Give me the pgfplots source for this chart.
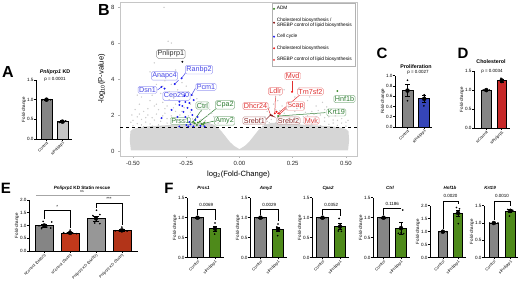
\documentclass[border=0pt]{standalone}
\usepackage{fontspec}
\setmainfont{Liberation Sans}
\usepackage{pgfplots}
\pgfplotsset{compat=1.18}
\newcommand{\fs}[1]{\fontsize{#1}{#1}\selectfont}
\definecolor{cgray}{HTML}{858585}
\definecolor{cgrayL}{HTML}{C4C4C4}
\definecolor{cblue}{HTML}{3545B8}
\definecolor{cred}{HTML}{C62828}
\definecolor{corange}{HTML}{C1391B}
\definecolor{cgreen}{HTML}{4E8A1A}
\definecolor{ptgray}{HTML}{CCCCCC}
\definecolor{cloud}{HTML}{D6D6D6}
\definecolor{vblue}{HTML}{1E1EF0}
\definecolor{vgreen}{HTML}{3D8B2A}
\definecolor{vred}{HTML}{F01818}
\definecolor{vdred}{HTML}{8B1A1A}
\definecolor{vsalmon}{HTML}{F04848}
\definecolor{lblue}{HTML}{4848E8}
\definecolor{lgreen}{HTML}{2E7D32}
\definecolor{lred}{HTML}{E03030}
\definecolor{ldred}{HTML}{8B2A2A}
\definecolor{lblack}{HTML}{333333}
\tikzset{
  brk/.style={black, line width=0.45pt},
  lab/.style={draw=#1!55!white, text=#1, fill=white, rounded corners=1.5pt, inner sep=1pt, font=\fs{7.2}, line width=0.45pt},
}
\pgfplotsset{
  bp/.style={
    scale only axis, anchor=south west, clip=false,
    axis lines=left, axis line style={-, line width=0.6pt},
    ymin=0, xtick={1,2},
    tick align=outside, major tick length=1.6pt,
    every tick/.style={black, line width=0.5pt},
    tick label style={font=\fs{4.6}},
    xticklabel style={rotate=45, anchor=north east, inner sep=0.4pt, font=\fs{3.9}},
    yticklabel style={inner sep=0.8pt, /pgf/number format/.cd, fixed, fixed zerofill, precision=1, assume math mode=true},
    ylabel={Fold-change}, ylabel style={font=\fs{4.5}, inner sep=0pt},
  },
  br/.style={ybar, bar width=#1, bar shift=0pt, draw=black, line width=0.7pt},
  eb/.style={only marks, mark=none, forget plot, error bars/.cd, y dir=both, y explicit,
    error bar style={black, line width=0.5pt},
    error mark options={black, rotate=90, mark size=#1, line width=0.5pt}},
  dt/.style={only marks, mark=*, mark size=0.6pt, black},
}
\begin{document}
\begin{tikzpicture}[x=1pt,y=1pt]
\path[use as bounding box] (0,0) rectangle (520,284);

% ---------------- Panel letters
\node[font=\fs{16}\bfseries] at (8,212) {A};
\node[font=\fs{16}\bfseries] at (104,274) {B};
\node[font=\fs{15}\bfseries] at (382,231) {C};
\node[font=\fs{15}\bfseries] at (463,231) {D};
\node[font=\fs{15}\bfseries] at (6,96) {E};
\node[font=\fs{15}\bfseries] at (169,95.5) {F};

% ---------------- Panel A
\begin{axis}[bp, at={(36pt,145pt)}, width=36pt, height=59pt,
  xmin=0.344, xmax=2.594, ymax=1.5, ytick={0,0.5,1,1.5},
  xticklabels={Control, siPnliprp1}]
\addplot[br=11pt, fill=cgray] coordinates {(1,1)};
\addplot[br=11pt, fill=cgrayL] coordinates {(2,0.44)};
\addplot[eb=2pt] coordinates {(1,1) +- (0,0.004) (2,0.44) +- (0,0.025)};
\addplot[dt] coordinates {(0.75,1)(0.92,1)(1.08,1)(1.25,1)(1.8,0.42)(1.93,0.47)(2.07,0.43)(2.2,0.46)};
\end{axis}
\node[font=\fs{5.3}\bfseries] at (55,212) {\textit{Pnliprp1} KD};
\node[font=\fs{4.5}] at (55,204.5) {p = 0.0001};

% ---------------- Panel B (volcano)
\begin{axis}[scale only axis, anchor=south west, at={(120pt,128pt)}, width=237pt, height=154pt,
  xmin=-0.561, xmax=0.552, ymin=-0.28, ymax=8.28,
  axis line style={draw=gray!45, line width=0.5pt},
  xtick={-0.5,-0.25,0,0.25,0.5}, xticklabels={-0.50,-0.25,0.00,0.25,0.50},
  ytick={0,2,4,6,8},
  tick align=outside, major tick length=2pt, every tick/.style={gray!60, line width=0.4pt},
  xtick pos=bottom, ytick pos=left,
  tick label style={font=\fs{6.0}, text=black!85},
  yticklabel style={/pgf/number format/assume math mode=true},
  xlabel={log\textsubscript{2}(Fold-Change)}, ylabel={-log\textsubscript{10}(P-value)},
  label style={font=\fs{7.6}},
  xlabel style={yshift=2pt}, ylabel style={yshift=-1pt},
  legend style={at={(0.994,0.996)}, anchor=north east, font=\fs{4.8}, draw=gray!60, line width=0.4pt,
    inner sep=1.6pt, row sep=2.6pt, cells={anchor=west, align=left}, fill=white},
  legend cell align=left,
  legend image code/.code={\draw[mark repeat=2,mark phase=2] plot coordinates {(0cm,0cm)(0.1cm,0cm)(0.2cm,0cm)};},
]
% dense cloud
\addplot[fill=cloud, draw=none, forget plot] coordinates {
 (-0.51,0.03)(-0.515,0.6)(-0.512,1.1)(-0.50,1.22)(-0.47,1.32)(-0.42,1.38)(-0.36,1.42)(-0.30,1.46)(-0.24,1.52)
 (-0.19,1.58)(-0.15,1.56)(-0.12,1.46)(-0.10,1.28)(-0.085,1.1)(-0.065,0.8)(-0.045,0.5)(-0.025,0.28)(0,0.1)
 (0.025,0.28)(0.045,0.5)(0.065,0.8)(0.085,1.1)(0.10,1.28)(0.12,1.46)(0.15,1.56)(0.19,1.58)(0.24,1.52)
 (0.30,1.46)(0.36,1.42)(0.42,1.38)(0.47,1.32)(0.50,1.22)(0.512,1.1)(0.515,0.6)(0.51,0.03)} -- cycle;
% scattered gray genes
\addplot[only marks, mark=*, mark size=0.45pt, color=ptgray, forget plot] coordinates {
(-0.354,7.98)(-0.335,6.10)(-0.320,6.00)(-0.400,4.90)(-0.420,4.40)(-0.380,4.20)(-0.300,4.50)(-0.350,3.90)
(-0.390,3.70)(-0.440,3.40)(-0.460,3.00)(-0.410,3.10)(-0.370,3.20)(-0.330,3.30)(-0.310,3.00)(-0.290,3.40)
(-0.240,3.30)(-0.220,3.10)(-0.200,2.90)(-0.180,2.70)(-0.160,2.50)(-0.140,2.30)(-0.130,2.10)(-0.120,1.90)
(-0.420,2.80)(-0.470,2.60)(-0.490,2.30)(-0.450,2.20)(-0.400,2.50)(-0.360,2.70)(-0.340,2.50)(-0.380,2.30)
(-0.430,2.00)(-0.480,1.90)(-0.500,1.70)(-0.460,1.75)(-0.410,1.85)(-0.390,2.05)(-0.350,2.10)(-0.300,2.20)
(-0.320,1.95)(-0.280,2.00)(-0.260,2.40)(-0.300,2.60)(-0.330,2.85)(-0.250,3.60)(-0.270,3.80)(-0.230,2.15)
(-0.150,1.95)(-0.110,1.70)(-0.100,1.55)(-0.440,1.60)(-0.370,1.65)(-0.340,1.80)(-0.290,1.70)(-0.255,1.75)
(-0.180,2.20)(-0.200,2.40)(-0.230,2.60)(-0.360,3.60)(-0.320,3.70)(-0.480,3.10)(-0.510,1.60)(-0.505,2.00)
(-0.50,1.40)(-0.48,1.52)(-0.46,1.45)(-0.44,1.85)(-0.42,1.50)(-0.40,1.72)(-0.38,1.45)(-0.36,1.95)
(-0.34,1.55)(-0.32,1.45)(-0.30,1.82)(-0.28,1.48)(-0.26,1.62)(-0.24,1.95)(-0.22,1.78)(-0.20,1.85)
(-0.18,1.75)(-0.16,1.68)(-0.14,1.55)(-0.13,1.45)(-0.12,1.38)(-0.47,2.05)(-0.43,2.35)(-0.39,2.60)
(-0.35,2.35)(-0.31,2.40)(-0.27,2.20)(-0.45,1.35)(-0.41,1.38)(-0.37,1.35)
(0.100,1.55)(0.110,1.75)(0.120,1.90)(0.130,2.20)(0.140,2.40)(0.160,2.60)(0.180,2.80)(0.200,2.50)
(0.220,2.30)(0.240,2.70)(0.260,3.00)(0.280,2.60)(0.300,2.40)(0.320,2.80)(0.340,2.20)(0.360,2.50)
(0.380,2.00)(0.400,2.30)(0.420,1.90)(0.440,2.10)(0.460,1.70)(0.480,1.80)(0.500,1.60)(0.350,1.75)
(0.300,1.90)(0.250,2.00)(0.230,1.80)(0.270,1.70)(0.320,1.65)(0.400,1.65)(0.190,3.10)(0.210,3.40)
(0.170,3.00)(0.280,3.50)(0.300,3.20)(0.150,2.00)(0.260,2.20)(0.390,2.70)(0.330,3.00)(0.210,2.10)
(0.360,1.90)(0.440,1.55)(0.510,1.70)(0.130,1.65)(0.170,2.30)
(0.11,1.38)(0.12,1.48)(0.14,1.58)(0.15,1.75)(0.17,1.55)(0.18,1.68)(0.20,1.78)(0.22,1.52)
(0.24,1.62)(0.26,1.85)(0.28,1.45)(0.30,1.58)(0.32,1.95)(0.34,1.50)(0.36,1.62)(0.38,1.40)
(0.40,1.85)(0.42,1.48)(0.44,1.72)(0.46,1.42)(0.48,1.55)(0.50,1.38)(0.19,2.25)(0.23,2.45)
(0.27,2.35)(0.31,2.15)(0.35,2.05)(0.41,2.45)(0.45,1.95)(0.37,2.25)};
% Pnliprp1 (black)
\addplot[only marks, mark=*, mark size=0.75pt, color=black, forget plot] coordinates {(-0.268,4.96)};
% legend series
\addplot[only marks, mark=*, mark size=0.75pt, color=vgreen] coordinates {
(-0.217,1.63)(-0.186,1.63)(-0.210,1.54)(-0.178,1.50)(-0.200,1.44)(-0.170,1.46)(-0.195,1.58)(-0.165,1.58)
(0.460,3.33)(0.182,1.94)};
\addlegendentry{ADM}
\addplot[only marks, mark=*, mark size=0.75pt, color=vdred] coordinates {(0.146,2.00)(0.153,1.96)};
\addlegendentry{Cholesterol biosynthesis /\\SREBP control of lipid biosynthesis}
\addplot[only marks, mark=*, mark size=0.75pt, color=vblue] coordinates {
(-0.272,4.04)(-0.304,3.72)(-0.366,3.56)(-0.352,3.47)(-0.282,2.74)(-0.254,2.72)(-0.282,2.56)(-0.244,2.39)
(-0.263,2.17)(-0.225,2.28)(-0.291,1.89)(-0.366,1.83)(-0.254,1.89)(-0.221,2.00)(-0.235,1.61)(-0.207,1.72)
(-0.197,1.89)(-0.225,3.11)(-0.249,1.44)(-0.282,1.36)(-0.183,1.40)(-0.164,1.36)(-0.216,1.36)(-0.235,2.67)
(-0.258,3.06)(-0.215,2.83)(-0.268,2.50)(-0.319,2.28)(-0.240,1.36)(-0.230,1.48)};
\addlegendentry{Cell cycle}
\addplot[only marks, mark=*, mark size=0.75pt, color=vred] coordinates {(0.247,3.29)(0.166,2.09)(0.182,2.09)(0.174,2.18)};
\addlegendentry{Cholesterol biosynthesis}
\addplot[only marks, mark=*, mark size=0.75pt, color=vsalmon] coordinates {(0.189,2.06)};
\addlegendentry{SREBP control of lipid biosynthesis}
% significance line
\addplot[black, dashed, line width=0.65pt, forget plot] coordinates {(-0.561,1.301)(0.552,1.301)};
% leader lines
\draw[lblue, line width=0.5pt] (axis cs:-0.249,4.41) -- (axis cs:-0.272,4.04);
\draw[lblue, line width=0.5pt] (axis cs:-0.286,3.94) -- (axis cs:-0.304,3.72);
\draw[lblue, line width=0.5pt] (axis cs:-0.385,3.39) -- (axis cs:-0.366,3.56);
\draw[lblue, line width=0.5pt] (axis cs:-0.207,3.48) -- (axis cs:-0.225,3.11);
\draw[lgreen, line width=0.5pt] (axis cs:-0.178,2.28) -- (axis cs:-0.217,1.63);
\draw[lgreen, line width=0.5pt] (axis cs:-0.108,2.37) -- (axis cs:-0.186,1.63);
\draw[lgreen, line width=0.5pt] (axis cs:-0.233,1.63) -- (axis cs:-0.210,1.54);
\draw[lgreen, line width=0.5pt] (axis cs:-0.116,1.67) -- (axis cs:-0.178,1.50);
\draw[lred, line width=0.5pt] (axis cs:0.135,2.37) -- (axis cs:0.146,2.00);
\draw[ldred, line width=0.5pt] (axis cs:0.122,1.72) -- (axis cs:0.146,2.00);
\draw[ldred, line width=0.5pt] (axis cs:0.169,1.87) -- (axis cs:0.153,1.96);
\draw[lred, line width=0.5pt] (axis cs:0.169,3.06) -- (axis cs:0.166,2.09);
\draw[lred, line width=0.5pt] (axis cs:0.247,3.91) -- (axis cs:0.247,3.29);
\draw[lred, line width=0.5pt] (axis cs:0.283,3.11) -- (axis cs:0.182,2.09);
\draw[lred, line width=0.5pt] (axis cs:0.229,2.46) -- (axis cs:0.189,2.06);
\draw[lgreen, line width=0.5pt] (axis cs:0.404,2.13) -- (axis cs:0.182,1.94);
% labels
\node[lab=lblack] at (axis cs:-0.322,5.39) {Pnliprp1};
\node[lab=lblue] at (axis cs:-0.190,4.52) {Ranbp2};
\node[lab=lblue] at (axis cs:-0.352,4.17) {Anapc4};
\node[lab=lblue] at (axis cs:-0.432,3.39) {Dsn1};
\node[lab=lblue] at (axis cs:-0.157,3.56) {Pcm1};
\node[lab=lblue] at (axis cs:-0.296,3.05) {Cep290};
\node[lab=lgreen] at (axis cs:-0.174,2.53) {Ctrl};
\node[lab=lgreen] at (axis cs:-0.068,2.56) {Cpa2};
\node[lab=lgreen] at (axis cs:-0.277,1.67) {Prss1};
\node[lab=lgreen] at (axis cs:-0.070,1.67) {Amy2};
\node[lab=lred] at (axis cs:0.075,2.50) {Dhcr24};
\node[lab=ldred] at (axis cs:0.070,1.69) {Srebf1};
\node[lab=lred] at (axis cs:0.169,3.32) {Ldlr};
\node[lab=lred] at (axis cs:0.250,4.17) {Mvd};
\node[lab=lred] at (axis cs:0.333,3.30) {Tm7sf2};
\node[lab=lred] at (axis cs:0.263,2.50) {Scap};
\node[lab=ldred] at (axis cs:0.230,1.69) {Srebf2};
\node[lab=lred] at (axis cs:0.338,1.69) {Mvk};
\node[lab=lgreen] at (axis cs:0.493,2.89) {Hnf1b};
\node[lab=lgreen] at (axis cs:0.455,2.14) {Krt19};
\end{axis}

% ---------------- Panel C
\begin{axis}[bp, at={(395pt,157pt)}, width=37pt, height=51.3pt,
  xmin=0.251, xmax=2.467, ymax=1.0, ytick={0,0.2,0.4,0.6,0.8,1.0},
  xticklabels={Control, siPnliprp1}]
\addplot[br=11pt, fill=cgray] coordinates {(1,0.71)};
\addplot[br=11pt, fill=cblue] coordinates {(2,0.55)};
\addplot[eb=2.2pt] coordinates {(1,0.71) +- (0,0.12) (2,0.55) +- (0,0.07)};
\addplot[dt] coordinates {(1.0,0.91)(1.0,0.51)(1.05,0.72)(2.0,0.63)(2.03,0.61)(1.98,0.41)};
\end{axis}
\node[font=\fs{5.3}\bfseries] at (416,217.3) {Proliferation};
\node[font=\fs{4.5}] at (418,211.2) {p = 0.0027};

% ---------------- Panel D
\begin{axis}[bp, at={(474pt,155.7pt)}, width=36pt, height=57.3pt,
  xmin=0.201, xmax=2.539, ymax=1.5, ytick={0,0.5,1,1.5},
  xticklabels={siControl, siPnliprp1}]
\addplot[br=9.5pt, fill=cgray] coordinates {(1,1.0)};
\addplot[br=9.5pt, fill=cred] coordinates {(2,1.25)};
\addplot[eb=2pt] coordinates {(1,1.0) +- (0,0.005) (2,1.25) +- (0,0.035)};
\addplot[dt] coordinates {(0.8,1)(1,1)(1.2,1)(1.95,1.31)(2.05,1.28)(2.0,1.2)};
\end{axis}
\node[font=\fs{5.3}\bfseries] at (491,222.3) {Cholesterol};
\node[font=\fs{4.5}] at (492,213) {p = 0.0034};

% ---------------- Panel E
\begin{axis}[bp, at={(29pt,33pt)}, width=109pt, height=51pt,
  xmin=0.413, xmax=4.622, ymax=2.0, ytick={0,0.5,1,1.5,2}, xtick={1,2,3,4},
  xticklabels={siControl (DMSO), siControl (Statin), \textit{Pnliprp1} KD (DMSO), \textit{Pnliprp1} KD (Statin)},
  xticklabel style={font=\fs{3.7}}]
\addplot[br=18pt, fill=cgray] coordinates {(1,1.0)};
\addplot[br=18pt, fill=corange] coordinates {(2,0.71)};
\addplot[br=18pt, fill=cgray!85!white] coordinates {(3,1.28)};
\addplot[br=18pt, fill=corange!92!black] coordinates {(4,0.81)};
\addplot[eb=3pt] coordinates {(1,1.0) +- (0,0.05) (2,0.71) +- (0,0.03) (3,1.28) +- (0,0.10) (4,0.81) +- (0,0.035)};
\addplot[dt] coordinates {(0.96,1.16)(1.29,1.14)(0.80,0.99)(1.10,0.94)(0.90,0.88)(1.25,0.90)
 (1.75,0.72)(1.88,0.70)(2.0,0.82)(2.12,0.69)(2.25,0.68)
 (3.02,1.60)(2.88,1.39)(3.15,1.43)(2.95,1.10)(3.15,1.07)
 (4.0,0.94)(3.75,0.79)(3.9,0.78)(4.05,0.80)(4.2,0.78)};
\draw[brk] (axis cs:1,1.25) -- (axis cs:1,1.6) -- (axis cs:2,1.6) -- (axis cs:2,0.9);
\node[font=\fs{4.5}] at (axis cs:1.5,1.74) {*};
\draw[brk] (axis cs:3,1.7) -- (axis cs:3,1.89) -- (axis cs:4,1.89) -- (axis cs:4,1.0);
\node[font=\fs{4.5}] at (axis cs:3.5,2.04) {***};
\draw[gray!70, line width=0.45pt] (axis cs:0.68,2.18) -- (axis cs:4.31,2.18);
\node[font=\fs{3.4}] at (axis cs:2.46,2.31) {ns};
\end{axis}
\node[font=\fs{4.6}\bfseries] at (82,96) {\textit{Pnliprp1} KD Statin rescue};

% ---------------- Panel F
\begin{axis}[bp, at={(187pt,26.3pt)}, width=37pt, height=60pt,
  xmin=0.4, xmax=2.514, ymax=1.5, ytick={0,0.5,1,1.5}, xticklabels={Control, siPnliprp1}]
\addplot[br=11.5pt, fill=cgray] coordinates {(1,1.0)};
\addplot[br=11.5pt, fill=cgreen] coordinates {(2,0.73)};
\addplot[eb=2.2pt] coordinates {(1,1.0) +- (0,0.004) (2,0.73) +- (0,0.06)};
\addplot[dt] coordinates {(0.8,1)(0.93,1)(1.07,1)(1.2,1)(2.0,0.87)(1.9,0.73)(2.05,0.67)(1.98,0.59)};
\draw[brk] (axis cs:1,1.06) -- (axis cs:1,1.21) -- (axis cs:2,1.21) -- (axis cs:2,0.95);
\node[font=\fs{4.5}] at (axis cs:1.5,1.31) {0.0069};
\end{axis}
\begin{axis}[bp, at={(250pt,26.3pt)}, width=37pt, height=60pt,
  xmin=0.4, xmax=2.514, ymax=1.5, ytick={0,0.5,1,1.5}, xticklabels={Control, siPnliprp1}]
\addplot[br=11.5pt, fill=cgray] coordinates {(1,1.0)};
\addplot[br=11.5pt, fill=cgreen] coordinates {(2,0.71)};
\addplot[eb=2.2pt] coordinates {(1,1.0) +- (0,0.004) (2,0.71) +- (0,0.06)};
\addplot[dt] coordinates {(0.8,1)(0.93,1)(1.07,1)(1.2,1)(2.0,0.84)(1.93,0.77)(2.08,0.72)(1.98,0.55)};
\draw[brk] (axis cs:1,1.06) -- (axis cs:1,1.21) -- (axis cs:2,1.21) -- (axis cs:2,0.92);
\node[font=\fs{4.5}] at (axis cs:1.5,1.31) {0.0029};
\end{axis}
\begin{axis}[bp, at={(312pt,26.3pt)}, width=37pt, height=60pt,
  xmin=0.4, xmax=2.514, ymax=1.5, ytick={0,0.5,1,1.5}, xticklabels={Control, siPnliprp1}]
\addplot[br=11.5pt, fill=cgray] coordinates {(1,1.0)};
\addplot[br=11.5pt, fill=cgreen] coordinates {(2,0.78)};
\addplot[eb=2.2pt] coordinates {(1,1.0) +- (0,0.004) (2,0.78) +- (0,0.07)};
\addplot[dt] coordinates {(0.8,1)(0.93,1)(1.07,1)(1.2,1)(1.95,0.98)(2.05,0.78)(1.9,0.67)(2.08,0.66)};
\draw[brk] (axis cs:1,1.06) -- (axis cs:1,1.21) -- (axis cs:2,1.21) -- (axis cs:2,1.05);
\node[font=\fs{4.5}] at (axis cs:1.5,1.31) {0.0352};
\end{axis}
\begin{axis}[bp, at={(373pt,26.3pt)}, width=37pt, height=60pt,
  xmin=0.4, xmax=2.514, ymax=1.5, ytick={0,0.5,1,1.5}, xticklabels={Control, siPnliprp1}]
\addplot[br=11.5pt, fill=cgray] coordinates {(1,1.0)};
\addplot[br=11.5pt, fill=cgreen] coordinates {(2,0.74)};
\addplot[eb=2.2pt] coordinates {(1,1.0) +- (0,0.004) (2,0.74) +- (0,0.155)};
\addplot[dt] coordinates {(0.8,1)(0.93,1)(1.07,1)(1.2,1)(2.1,1.19)(1.85,0.61)(2.0,0.62)(2.15,0.60)};
\draw[brk] (axis cs:1,1.06) -- (axis cs:1,1.24) -- (axis cs:2,1.24) -- (axis cs:2,1.24);
\node[font=\fs{4.5}] at (axis cs:1.5,1.34) {0.1186};
\end{axis}
\begin{axis}[bp, at={(430pt,26.3pt)}, width=36pt, height=52pt,
  xmin=0.158, xmax=2.526, ymax=2.0, ytick={0,0.5,1,1.5,2}, xticklabels={Control, siPnliprp1}]
\addplot[br=9.5pt, fill=cgray] coordinates {(1,1.0)};
\addplot[br=9.5pt, fill=cgreen] coordinates {(2,1.72)};
\addplot[eb=2pt] coordinates {(1,1.0) +- (0,0.004) (2,1.72) +- (0,0.12)};
\addplot[dt] coordinates {(0.75,1)(0.92,1)(1.08,1)(1.25,1)(1.9,1.93)(2.1,1.88)(2.0,1.78)(2.02,1.31)};
\draw[brk] (axis cs:1,1.1) -- (axis cs:1,2.19) -- (axis cs:2,2.19) -- (axis cs:2,2.05);
\node[font=\fs{4.5}] at (axis cs:1.5,2.36) {0.0020};
\end{axis}
\begin{axis}[bp, at={(484pt,26.3pt)}, width=34pt, height=52pt,
  xmin=0.406, xmax=2.467, ymax=1.5, ytick={0,0.5,1,1.5}, xticklabels={Control, siPnliprp1}]
\addplot[br=9.5pt, fill=cgray] coordinates {(1,1.0)};
\addplot[br=9.5pt, fill=cgreen] coordinates {(2,1.35)};
\addplot[eb=2pt] coordinates {(1,1.0) +- (0,0.004) (2,1.35) +- (0,0.045)};
\addplot[dt] coordinates {(0.75,1)(0.92,1)(1.08,1)(1.25,1)(1.85,1.39)(2.0,1.39)(2.15,1.37)(1.95,1.2)};
\draw[brk] (axis cs:1,1.08) -- (axis cs:1,1.64) -- (axis cs:2,1.64) -- (axis cs:2,1.5);
\node[font=\fs{4.5}] at (axis cs:1.5,1.77) {0.0010};
\end{axis}
\node[font=\fs{4.5}\bfseries\itshape] at (203.5,96) {Prss1};
\node[font=\fs{4.5}\bfseries\itshape] at (266,96) {Amy2};
\node[font=\fs{4.5}\bfseries\itshape] at (328,96) {Cpa2};
\node[font=\fs{4.5}\bfseries\itshape] at (390,96) {Ctrl};
\node[font=\fs{4.5}\bfseries\itshape] at (450,96) {Hnf1b};
\node[font=\fs{4.5}\bfseries\itshape] at (490,96) {Krt19};
\end{tikzpicture}
\end{document}
